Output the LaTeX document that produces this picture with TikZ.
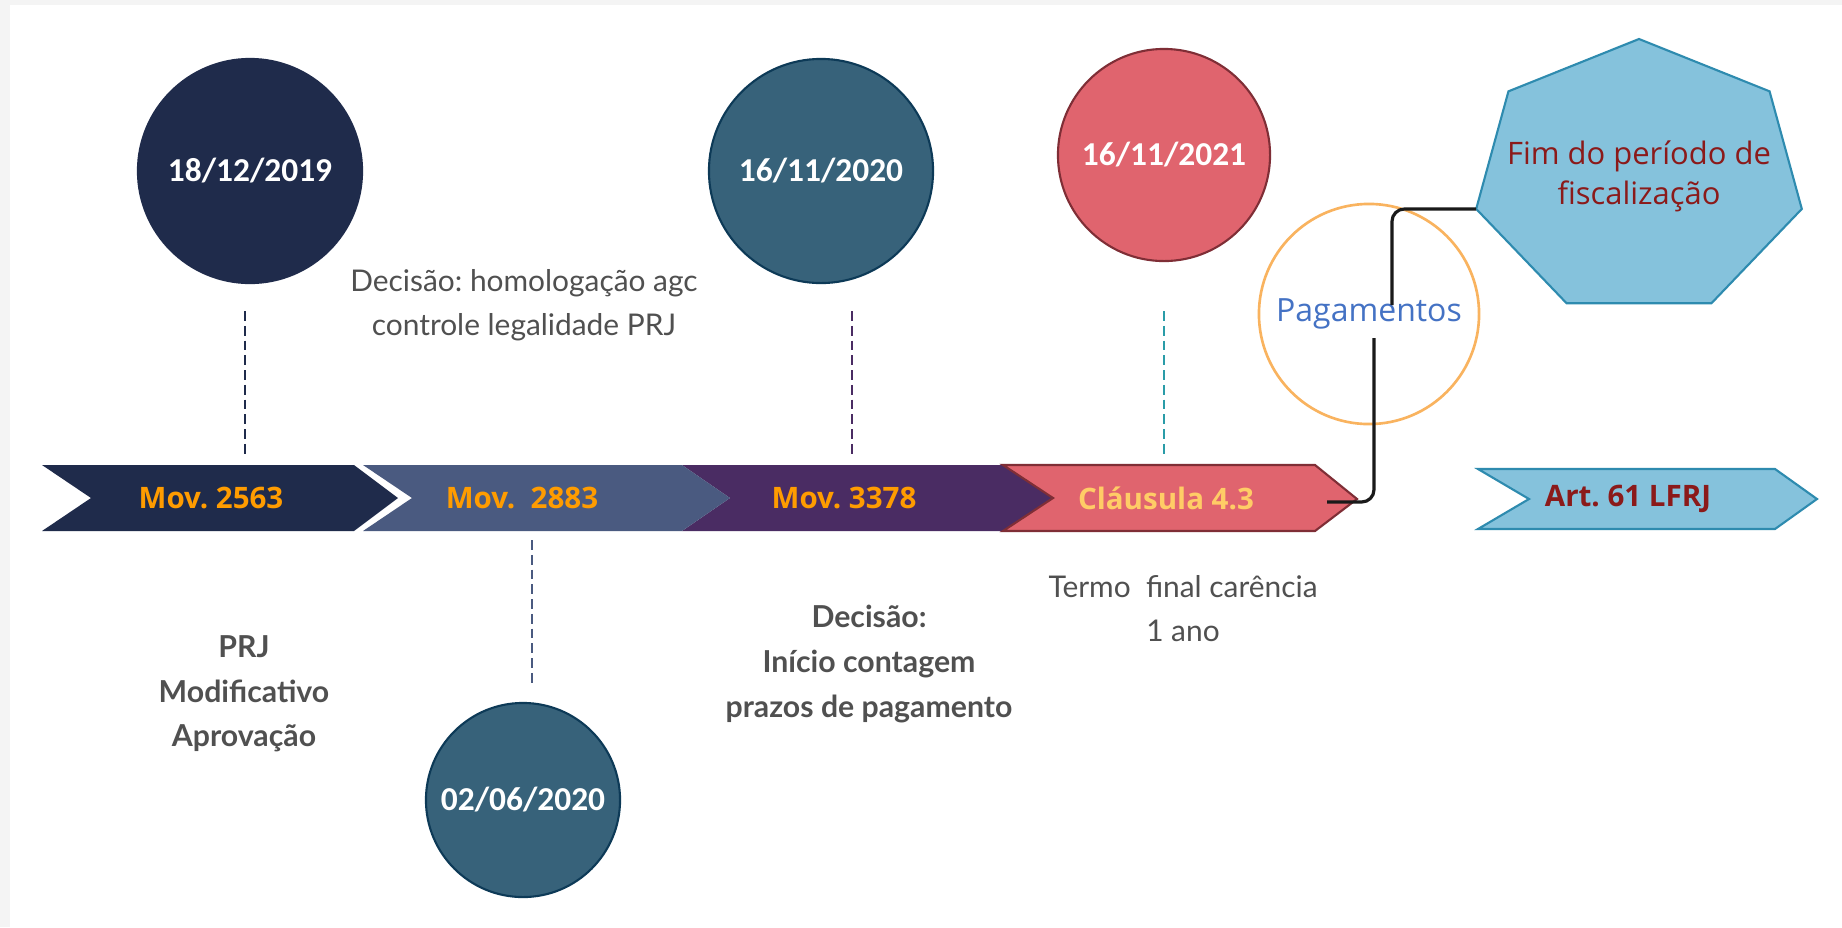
\documentclass[tikz,border=0pt]{standalone}
\usepackage{fontspec}
\newfontfamily\opensans{Open Sans}
\newfontfamily\lato{Lato}
\newfontfamily\carlito{Carlito}
\usetikzlibrary{calc}
\frenchspacing
\definecolor{bggray}{HTML}{F4F4F4}
\definecolor{navyband}{HTML}{1F2B4B}
\definecolor{slateband}{HTML}{4A5A80}
\definecolor{purpleband}{HTML}{4A2C63}
\definecolor{tealcirc}{HTML}{37627A}
\definecolor{tealline}{HTML}{0D3A57}
\definecolor{tealdash}{HTML}{2A9CA8}
\definecolor{pinkfill}{HTML}{E0646E}
\definecolor{pinkline}{HTML}{7F2E36}
\definecolor{skyfill}{HTML}{85C2DC}
\definecolor{skyline}{HTML}{2E8BAF}
\definecolor{movorange}{HTML}{FF9C00}
\definecolor{clausyellow}{HTML}{FFCC66}
\definecolor{artred}{HTML}{8B1A1A}
\definecolor{notegray}{HTML}{505050}
\definecolor{pagblue}{HTML}{4472C4}
\definecolor{pagline}{HTML}{F9B35F}
\definecolor{linkblack}{HTML}{1A1A1A}

\begin{document}
\begin{tikzpicture} [
  x=0.01cm,
  y=-0.01cm,
  date node/.style={circle,minimum size=2.24cm,inner sep=0pt,line width=0.6pt,
    text=white,font=\carlito\bfseries\fontsize{9.5}{11}\selectfont},
  band/.style={line width=0.6pt},
  mov node/.style={font=\opensans\bfseries\fontsize{8.4}{10}\selectfont,text=movorange},
  note node/.style={align=center,text=notegray,font=\lato\fontsize{8.5}{12.5}\selectfont},
  bold note/.style={note node,font=\lato\bfseries\fontsize{8.6}{12.7}\selectfont},
  tick/.style={line width=0.6pt,dash pattern=on 2.8pt off 1.4pt},
  link/.style={line width=0.9pt,draw=linkblack,rounded corners=3.5pt},
  ]

  \useasboundingbox (0,0) rectangle (1842,927);
  \fill[bggray] (0,0) rectangle (1842,927);
  \fill[white] (10,5) rectangle (1842,927);

  \fill[navyband] (42,465) -- (354,465) -- (398,498) -- (354,531) -- (42,531) -- (91,498) -- cycle;
  \fill[purpleband] (682,465) -- (1010,465) -- (1055,498) -- (1010,531) -- (682,531) -- (730,498) -- cycle;
  \fill[slateband] (363,465) -- (682,465) -- (730,498) -- (682,531) -- (363,531) -- (412,498) -- cycle;
  \filldraw[band,fill=pinkfill,draw=pinkline] (1003,465) -- (1315,465) -- (1357,499) -- (1315,531)
    -- (1003,531) -- (1053,498) -- cycle;
  \filldraw[band,fill=skyfill,draw=skyline] (1478,469) -- (1775,469) -- (1817,499) -- (1775,529)
    -- (1478,529) -- (1529,499) -- cycle;

  \node[mov node] (mov1) at (211,498) {Mov. 2563};
  \node[mov node] (mov2) at (522,498) {Mov.\ \ 2883};
  \node[mov node] (mov3) at (844,498) {Mov. 3378};
  \node[mov node,text=clausyellow] (claus) at (1166,498) {Cláusula 4.3};
  \node[mov node,text=artred] (art) at (1628,499) {Art. 61 LFRJ};

  \node[date node,fill=navyband,draw=navyband] (d1) at (250,171) {18/12/2019};
  \node[date node,fill=tealcirc,draw=tealline] (d2) at (821,171) {16/11/2020};
  \node[date node,fill=tealcirc,draw=tealline,minimum size=1.94cm] (d3) at (523,800) {02/06/2020};
  \node[date node,fill=pinkfill,draw=pinkline,minimum size=2.12cm] (d4) at (1164,155) {16/11/2021};

  \draw[tick,navyband] ($(d1.center)+(-5,140)$) -- ++(0,145);
  \draw[tick,purpleband] ($(d2.center)+(31,140)$) -- ++(0,145);
  \draw[tick,slateband] ($(d3.center)+(9,-260)$) -- ++(0,147);
  \draw[tick,tealdash] ($(d4.center)+(0,156)$) -- ++(0,145);

  \node[note node] (homolog) at (524,305) {Decisão: homologação agc\\controle legalidade PRJ};
  \node[bold note] (prj) at (244,694) {PRJ\\Modificativo\\Aprovação};
  \node[bold note] (inicio) at (869,664) {Decisão:\\Início contagem\\prazos de pagamento};
  \node[note node] (termo) at (1183,609) {Termo\ \ final carência\\1 ano};

  \node[circle,draw=pagline,line width=0.75pt,minimum size=2.2cm,text=pagblue,
    font=\opensans\fontsize{9.1}{11}\selectfont] (pag) at (1369,314) {Pagamentos};

  \filldraw[band,fill=skyfill,draw=skyline] plot[samples at={0,...,6}]
    ({1639+167*cos(90+\x*360/7)},{178-139*sin(90+\x*360/7)}) -- cycle;
  \coordinate (hleft) at (1476,209);
  \node[align=center,text=artred,font=\opensans\fontsize{8.8}{11.4}\selectfont] (fim) at (1639,176)
    {Fim do período de\\fiscalização};

  \coordinate (cstart) at (1327,502);
  \draw[link] (cstart) -| ($(pag.center)+(5,24)$);
  \draw[link] ($(pag.center)+(23,-9)$) |- (hleft);
\end{tikzpicture}
\end{document}
